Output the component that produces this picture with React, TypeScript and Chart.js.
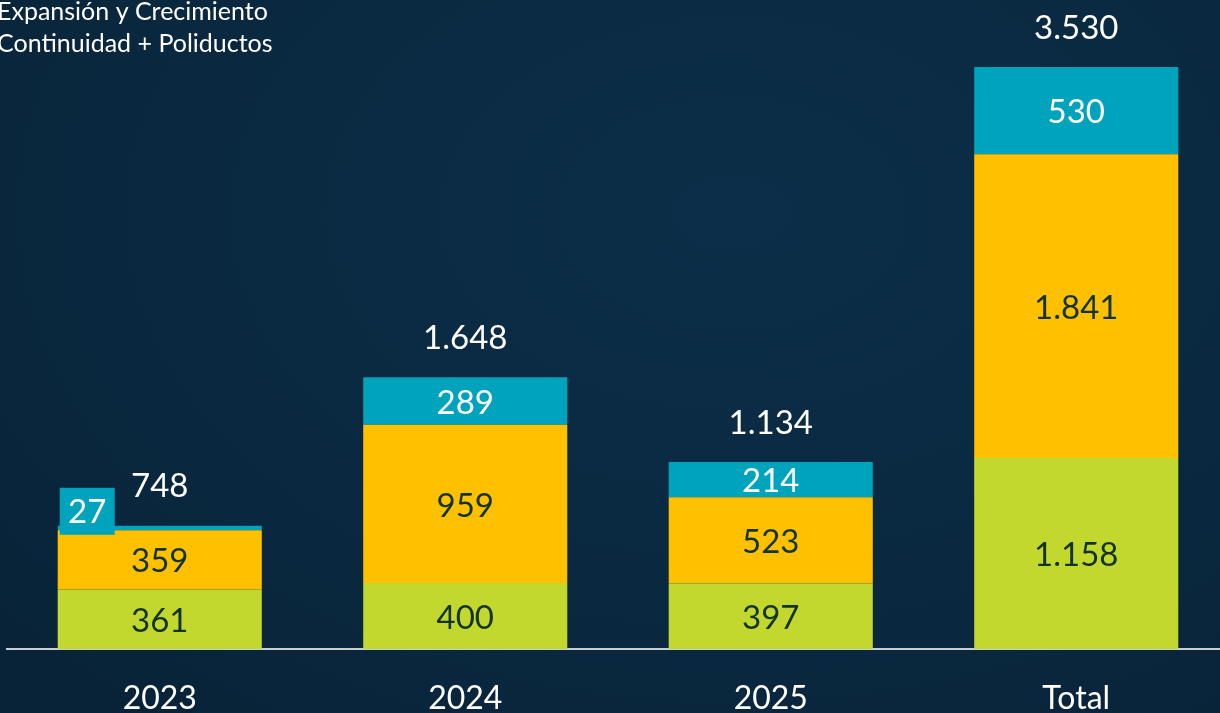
import React, { useEffect, useRef } from "react";
import { Chart, registerables } from "chart.js";

Chart.register(...registerables);

const categories = ["2023", "2024", "2025", "Total"];
const seriesLabels = ["Sostenimiento", "Continuidad + Poliductos", "Expansión y Crecimiento"];
const limeValues = [361, 400, 397, 1158];
const yellowValues = [359, 959, 523, 1841];
const tealValues = [27, 289, 214, 530];
const totals = ["748", "1.648", "1.134", "3.530"];
const limeText = ["361", "400", "397", "1.158"];
const yellowText = ["359", "959", "523", "1.841"];
const tealText = ["27", "289", "214", "530"];
const legendLines = ["Expansión y Crecimiento", "Continuidad + Poliductos"];

const FONT = "Lato, 'Open Sans', sans-serif";

export default function App() {
  const ref = useRef<HTMLCanvasElement | null>(null);

  useEffect(() => {
    document.body.style.margin = "0";
    const canvas = ref.current!;
    const labelPlugin = {
      id: "labels",
      afterDatasetsDraw(chart: any) {
        const ctx = chart.ctx;
        ctx.save();
        ctx.textAlign = "center";
        ctx.textBaseline = "middle";
        ctx.font = `33px ${FONT}`;
        const texts = [limeText, yellowText, tealText];
        const colors = ["#12331f", "#12331f", "#ffffff"];
        for (let d = 0; d < 3; d++) {
          const meta = chart.getDatasetMeta(d);
          meta.data.forEach((bar: any, i: number) => {
            const h = Math.abs(bar.base - bar.y);
            const left = bar.x - bar.width / 2;
            if (h < 20) {
              const bw = 55, bh = 47;
              const bx = left + 2;
              const by = bar.y + 9 - bh;
              ctx.fillStyle = "#00a3bc";
              ctx.fillRect(bx, by, bw, bh);
              ctx.fillStyle = "#ffffff";
              ctx.fillText(texts[d][i], bx + bw / 2, by + bh / 2 + 1);
            } else {
              ctx.fillStyle = colors[d];
              ctx.fillText(texts[d][i], bar.x, (bar.y + bar.base) / 2 + 2);
            }
          });
        }
        const top = chart.getDatasetMeta(2);
        ctx.fillStyle = "#ffffff";
        top.data.forEach((bar: any, i: number) => {
          ctx.fillText(totals[i], bar.x, bar.y - 39);
        });
        ctx.textAlign = "left";
        ctx.font = `25px ${FONT}`;
        legendLines.forEach((t, i) => {
          ctx.fillText(t, -3, 12 + i * 32);
        });
        ctx.restore();
      },
    };

    const chart = new Chart(canvas, {
      type: "bar",
      data: {
        labels: categories,
        datasets: [
          { label: seriesLabels[0], data: limeValues, backgroundColor: "#c2d82e" },
          { label: seriesLabels[1], data: yellowValues, backgroundColor: "#ffc000" },
          { label: seriesLabels[2], data: tealValues, backgroundColor: "#00a3bc" },
        ],
      },
      options: {
        animation: false,
        responsive: false,
        maintainAspectRatio: false,
        layout: { padding: { left: 7, right: 1, top: 0, bottom: 0 } },
        datasets: { bar: { categoryPercentage: 1, barPercentage: 0.668 } },
        plugins: { legend: { display: false }, tooltip: { enabled: false } },
        scales: {
          x: {
            stacked: true,
            grid: { display: false, drawTicks: false },
            border: { display: true, color: "#c9ccd0", width: 2 },
            ticks: { color: "#ffffff", font: { family: FONT, size: 32 }, padding: 30 },
            afterFit(scale: any) {
              scale.height = 64;
            },
          },
          y: { stacked: true, display: false, min: 0, max: 3935 },
        },
      },
      plugins: [labelPlugin],
    });
    return () => chart.destroy();
  }, []);

  return (
    <div
      style={{
        position: "fixed",
        left: 0,
        top: 0,
        width: 1220,
        height: 713,
        overflow: "hidden",
        background:
          "radial-gradient(ellipse at 60% 30%, #0d2e48 0%, #0a2a42 45%, #082236 100%)",
      }}
    >
      <canvas ref={ref} width={1230} height={713} style={{ display: "block", width: 1230, height: 713 }} />
    </div>
  );
}
